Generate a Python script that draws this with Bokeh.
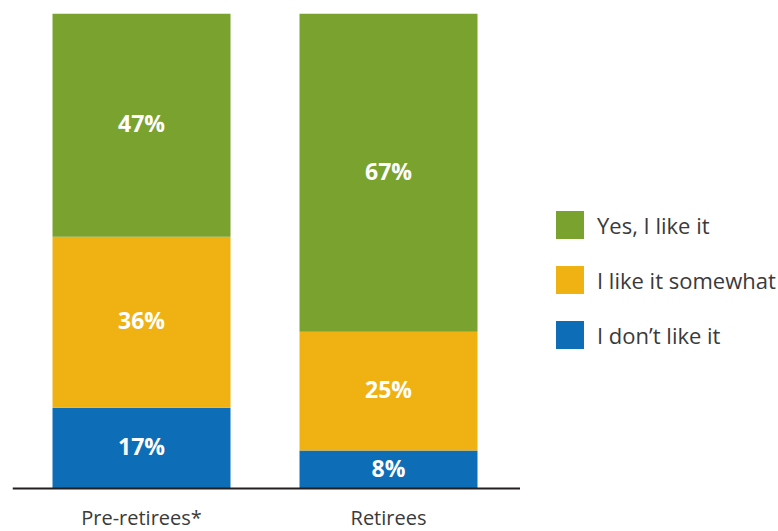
from bokeh.plotting import figure
from bokeh.layouts import row
from bokeh.models import Range1d, Legend, LegendItem, ColumnDataSource, Span
from bokeh.core.properties import value
from bokeh.embed import file_html
from bokeh.resources import INLINE

categories = ["Pre-retirees*", "Retirees"]
series_names = ["I don\u2019t like it", "I like it somewhat", "Yes, I like it"]
dont_like = [17, 8]
somewhat = [36, 25]
yes_like = [47, 67]
colors = ["#0e6db7", "#f0b212", "#7aa22f"]

FONT = "Open Sans"

p = figure(width=520, height=531, output_backend="svg", toolbar_location=None,
           x_range=Range1d(-0.5223, 1.5344), y_range=Range1d(-9.0526, 100),
           min_border_left=12, min_border_right=0, min_border_top=13, min_border_bottom=0)
p.outline_line_color = None
p.xgrid.visible = False
p.ygrid.visible = False
p.yaxis.visible = False
p.xaxis.visible = False
p.background_fill_color = "white"
p.border_fill_color = "white"

xs = list(range(len(categories)))
series = [dont_like, somewhat, yes_like]
bottom = [0.0] * len(categories)
lx, ly, lt = [], [], []
for vals, col in zip(series, colors):
    top = [b + v for b, v in zip(bottom, vals)]
    src = ColumnDataSource(dict(x=xs, bottom=bottom, top=top))
    p.vbar(x="x", bottom="bottom", top="top", width=0.7206, source=src,
           fill_color=col, line_color=None)
    for i, v in enumerate(vals):
        lx.append(xs[i])
        ly.append(bottom[i] + v / 2)
        lt.append(f"{v}%")
    bottom = top

p.text(x=lx, y=ly, text=lt, text_color="white", text_font=value(FONT),
       text_font_style="bold", text_font_size="23px", text_align="center",
       text_baseline="middle", y_offset=-2)

# baseline (x axis line) at y = 0
p.add_layout(Span(location=0, dimension="width", line_color="#231f20", line_width=2))

# category labels below the baseline
p.text(x=xs, y=[0] * len(xs), text=categories, text_color="#3a3a3a",
       text_font=value(FONT), text_font_size="20px", text_align="center",
       text_baseline="alphabetic", y_offset=29)

# legend panel
lg = figure(width=258, height=531, output_backend="svg", toolbar_location=None,
            x_range=Range1d(0, 1), y_range=Range1d(0, 1),
            min_border_left=0, min_border_right=0, min_border_top=0, min_border_bottom=0)
lg.outline_line_color = None
lg.xgrid.visible = False
lg.ygrid.visible = False
lg.xaxis.visible = False
lg.yaxis.visible = False
lg.border_fill_color = "white"

# zero-height stand-ins so the legend can show each series colour
legend_renderers = [lg.vbar(x=[0.5], bottom=[0], top=[0], width=0.01, fill_color=c, line_color=None)
                    for c in colors]
items = [LegendItem(label=series_names[k], renderers=[legend_renderers[k]]) for k in [2, 1, 0]]
legend = Legend(items=items, location=(32, 179), glyph_width=35, glyph_height=35,
                spacing=20, label_standoff=10, padding=0, margin=0,
                border_line_color=None, background_fill_alpha=0,
                label_text_font=FONT, label_text_font_size="22px",
                label_text_color="#3a3a3a")
lg.add_layout(legend, "center")

layout = row(p, lg)
open("out.html", "w").write(file_html(layout, INLINE))
